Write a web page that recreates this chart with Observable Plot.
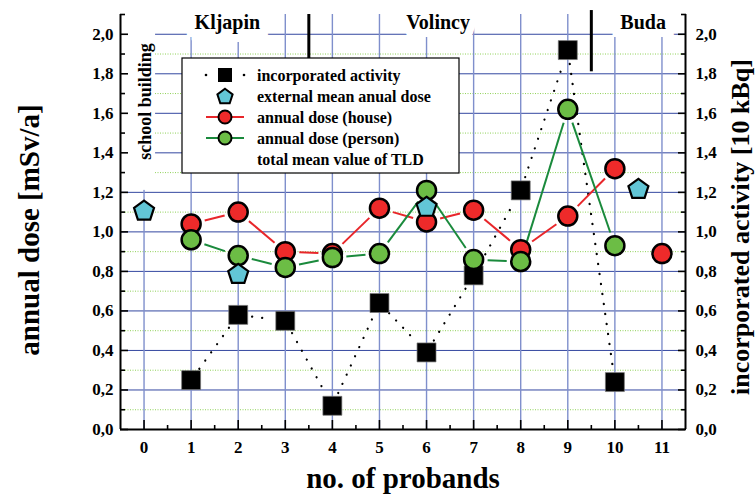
<!DOCTYPE html>
<html><head><meta charset="utf-8">
<script src="https://cdn.jsdelivr.net/npm/d3@7"></script>
<script src="https://cdn.jsdelivr.net/npm/@observablehq/plot@0.6"></script>
<style>body{margin:0;background:#fff}</style>
</head><body><div id="chart"></div>
<script>
// ---- data ----
const probands = [0,1,2,3,4,5,6,7,8,9,10,11];
const activityX = [1,2,3,4,5,6,7,8,9,10];
const activity  = [0.25,0.58,0.55,0.12,0.64,0.39,0.78,1.21,1.92,0.24];
const externalX = [0,2,6,10.5];
const external  = [1.11,0.79,1.13,1.22];
const houseX = [1,2,3,4,5,6,7,8,9,10,11];
const house  = [1.04,1.10,0.90,0.89,1.12,1.05,1.11,0.91,1.08,1.32,0.89];
const houseJoined = 10;            // points 1..10 joined, 11 stands alone
const personX = [1,2,3,4,5,6,7,8,9,10];
const person  = [0.96,0.88,0.82,0.87,0.89,1.21,0.86,0.85,1.62,0.93];
const yMajor = [0,0.2,0.4,0.6,0.8,1.0,1.2,1.4,1.6,1.8,2.0];
const yMinor = [0.1,0.3,0.5,0.7,0.9,1.1,1.3,1.5,1.7,1.9];
const yMinorTicks = [0.1,0.3,0.5,0.7,0.9,1.1,1.3,1.5,1.7,1.9,2.1];
const xMinorTicks = [0.5,1.5,2.5,3.5,4.5,5.5,6.5,7.5,8.5,9.5,10.5];
const towns = ["Kljapin","Volincy","Buda"];
const townX = [1.77,6.245,10.6];
const townY = 2.06;
const separatorX = [3.5,9.5];
const separatorY1 = [1.86,1.81];
const separatorY2 = [2.1,2.12];
const schoolLabel = "school building";
const legendLabels = ["incorporated activity","external mean anual dose","annual dose (house)","annual dose (person)","total mean value of TLD"];
const titleX = "no. of probands";
const titleY = "annual dose [mSv/a]";
const titleY2 = "incorporated activity [10 kBq]";

// ---- styles ----
const FONT = "'Liberation Serif','Times New Roman',serif";
const RED = "#ee2a2a", RED_LINE = "#e8262a";
const GREEN = "#6cbd45", GREEN_LINE = "#1a8a3c";
const CYAN = "#62c6d6";
const fmt = d => d.toFixed(1).replace(".", ",");

const pts = (xs, ys) => xs.map((x,i) => ({x, y: ys[i]}));
const segs = (xs, ys, n = xs.length) => {
  const out = [];
  for (let i = 0; i < n - 1; i++) out.push({x1: xs[i], y1: ys[i], x2: xs[i+1], y2: ys[i+1]});
  return out;
};
const pentagon = {draw(ctx, size){
  const r = Math.sqrt(size/Math.PI);
  for (let i = 0; i < 5; i++) {
    const a = -Math.PI/2 + i*2*Math.PI/5;
    const px = r*Math.cos(a), py = r*Math.sin(a) + 0.1*r;
    if (i) ctx.lineTo(px, py); else ctx.moveTo(px, py);
  }
  ctx.closePath();
}};

const axisCommon = {label: null};
const chart = Plot.plot({
  width: 755, height: 500,
  marginLeft: 120, marginRight: 70, marginTop: 14, marginBottom: 71,
  x: {domain: [-0.5, 11.5]},
  y: {domain: [0, 2.1]},
  style: {fontFamily: FONT, fontWeight: "bold", background: "white", overflow: "visible"},
  marks: [
    // grid
    Plot.ruleY(yMinor, {stroke: "#8fd158", strokeWidth: 1, strokeDasharray: "1,1.5"}),
    Plot.ruleY(yMajor.slice(1), {stroke: "#3347a0", strokeWidth: 1}),
    Plot.ruleX(probands, {stroke: "#7f8fcc", strokeWidth: 1.4}),
    // white panel behind "school building"
    Plot.rect([{x1: -0.5, x2: 0.245, y1: 1.21, y2: 2.1}], {x1: "x1", x2: "x2", y1: "y1", y2: "y2", fill: "white"}),
    Plot.text([{x: 0.03, y: 1.66, t: schoolLabel}], {x: "x", y: "y", text: "t", rotate: -90, fontSize: 18, fontWeight: "bold", fill: "black"}),
    // town labels with white background
    Plot.text(towns, {x: (d,i) => townX[i], y: () => townY, text: d => d, fontSize: 20, fontWeight: "bold",
      fill: "black", stroke: "white", strokeWidth: 16, strokeLinejoin: "miter"}),
    Plot.ruleX(separatorX, {x: d => d, y1: (d,i) => separatorY1[i], y2: (d,i) => separatorY2[i], stroke: "black", strokeWidth: 3}),
    // axes lines
    Plot.ruleX([-0.5, 11.5], {stroke: "black", strokeWidth: 2}),
    Plot.ruleY([0], {stroke: "black", strokeWidth: 2}),
    // ticks (inward)
    Plot.axisY({...axisCommon, anchor: "left", ticks: yMajor, tickSize: -8, fill: "none", strokeWidth: 1.6}),
    Plot.axisY({...axisCommon, anchor: "left", ticks: yMinorTicks, tickSize: -5, fill: "none", strokeWidth: 1.6}),
    Plot.axisY({...axisCommon, anchor: "right", ticks: yMajor, tickSize: -8, fill: "none", strokeWidth: 1.6}),
    Plot.axisY({...axisCommon, anchor: "right", ticks: yMinorTicks, tickSize: -5, fill: "none", strokeWidth: 1.6}),
    Plot.axisX({...axisCommon, anchor: "bottom", ticks: probands, tickSize: -9, fill: "none", strokeWidth: 1.6}),
    Plot.axisX({...axisCommon, anchor: "bottom", ticks: xMinorTicks, tickSize: -4, fill: "none", strokeWidth: 1.6}),
    // tick labels
    Plot.axisY({...axisCommon, anchor: "left", ticks: yMajor, tickSize: 0, tickPadding: 7, tickFormat: fmt, fontSize: 17, fontWeight: "bold", fill: "black"}),
    Plot.axisY({...axisCommon, anchor: "right", ticks: yMajor, tickSize: 0, tickPadding: 10, tickFormat: fmt, fontSize: 17, fontWeight: "bold", fill: "black"}),
    Plot.axisX({...axisCommon, anchor: "bottom", ticks: probands, tickSize: 0, tickPadding: 11, tickFormat: d => String(d), fontSize: 17, fontWeight: "bold", fill: "black"}),
    // titles
    Plot.text([titleY], {frameAnchor: "left", textAnchor: "middle", dx: -91, dy: 8, rotate: -90, fontSize: 29, fontWeight: "bold", fill: "black"}),
    Plot.text([titleY2], {frameAnchor: "right", textAnchor: "middle", dx: 55, dy: 5, rotate: -90, fontSize: 26, fontWeight: "bold", fill: "black"}),
    Plot.text([titleX], {frameAnchor: "bottom", dy: 58, fontSize: 29, fontWeight: "bold", fill: "black"}),
    // series lines
    Plot.arrow(segs(activityX, activity), {x1: "x1", y1: "y1", x2: "x2", y2: "y2", stroke: "black", strokeWidth: 2.2,
      strokeDasharray: "0.1,10", strokeLinecap: "round", headLength: 0, inset: 14}),
    Plot.arrow(segs(houseX, house, houseJoined), {x1: "x1", y1: "y1", x2: "x2", y2: "y2", stroke: RED_LINE, strokeWidth: 2,
      strokeLinecap: "butt", headLength: 0, inset: 14}),
    Plot.arrow(segs(personX, person), {x1: "x1", y1: "y1", x2: "x2", y2: "y2", stroke: GREEN_LINE, strokeWidth: 2,
      strokeLinecap: "butt", headLength: 0, inset: 14}),
    // markers
    Plot.dot(pts(activityX, activity), {x: "x", y: "y", symbol: "square", r: 10.7, fill: "black", stroke: "#777", strokeWidth: 0.7}),
    Plot.dot(pts(houseX, house), {x: "x", y: "y", r: 9.5, fill: RED, stroke: "black", strokeWidth: 2.5}),
    Plot.dot(pts(personX, person), {x: "x", y: "y", r: 9.5, fill: GREEN, stroke: "black", strokeWidth: 2.5}),
    Plot.dot(pts(externalX, external), {x: "x", y: "y", symbol: pentagon, r: 10.5, fill: CYAN, stroke: "black", strokeWidth: 2.2})
  ]
});
document.getElementById("chart").appendChild(chart);

// ---- legend (inside the frame, top-left) ----
const svg = d3.select(chart);
const lg = svg.append("g").attr("transform", "translate(182,58)");
lg.append("rect").attr("width", 277).attr("height", 115).attr("fill", "white").attr("stroke", "black").attr("stroke-width", 1.2);
const rowY = i => 17 + i * 21;
const sx = 43;
legendLabels.forEach((t, i) => {
  lg.append("text").attr("x", 75).attr("y", rowY(i)).attr("dy", "0.35em").attr("text-anchor", "start")
    .attr("font-family", FONT).attr("font-weight", "bold").attr("font-size", 16).attr("fill", "black").text(t);
});
// row 0: dotted + square
[24, 62].forEach(x => lg.append("circle").attr("cx", x).attr("cy", rowY(0)).attr("r", 1.3).attr("fill", "black"));
lg.append("rect").attr("x", sx - 7).attr("y", rowY(0) - 7).attr("width", 14).attr("height", 14).attr("fill", "black");
// row 1: pentagon
lg.append("path").attr("transform", `translate(${sx},${rowY(1)})`)
  .attr("d", d3.symbol(pentagon, Math.PI * 8 * 8)()).attr("fill", CYAN).attr("stroke", "black").attr("stroke-width", 2);
// rows 2,3: line + circle
[[RED_LINE, RED], [GREEN_LINE, GREEN]].forEach(([lc, fc], k) => {
  const y = rowY(2 + k);
  lg.append("line").attr("x1", 24).attr("x2", 62).attr("y1", y).attr("y2", y).attr("stroke", lc).attr("stroke-width", 2);
  lg.append("circle").attr("cx", sx).attr("cy", y).attr("r", 6.5).attr("fill", fc).attr("stroke", "black").attr("stroke-width", 2);
});
</script>
</body></html>
